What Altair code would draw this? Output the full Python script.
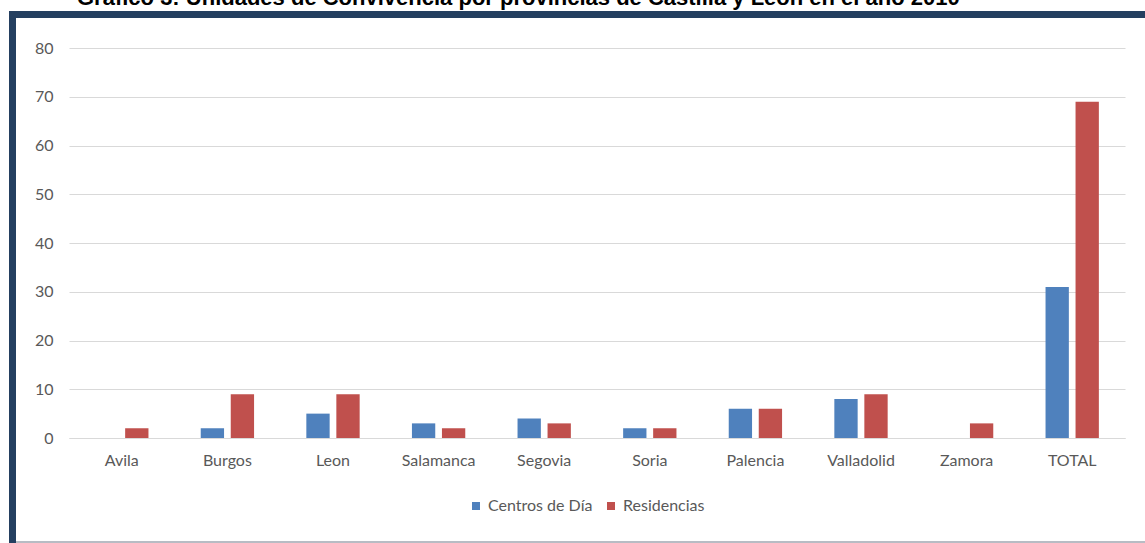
import altair as alt
import pandas as pd

provincias = ["Avila", "Burgos", "Leon", "Salamanca", "Segovia", "Soria",
              "Palencia", "Valladolid", "Zamora", "TOTAL"]
centros = [0, 2, 5, 3, 4, 2, 6, 8, 0, 31]
residencias = [2, 9, 9, 2, 3, 2, 6, 9, 3, 69]
series = ["Centros de Día", "Residencias"]
colors = ["#4F81BD", "#C0504D"]
title_text = "Gráfico 3: Unidades de Convivencia por provincias de Castilla y León en el año 2010"

rows = []
for p, c, r in zip(provincias, centros, residencias):
    rows.append({"Provincia": p, "Serie": series[0], "Valor": c})
    rows.append({"Provincia": p, "Serie": series[1], "Valor": r})
df = pd.DataFrame(rows)

FONT = "Lato"
GRAY = "#595959"

bars = alt.Chart(df).mark_bar().encode(
    x=alt.X("Provincia:N", sort=provincias,
            scale=alt.Scale(paddingInner=0.495, paddingOuter=0.2475),
            axis=alt.Axis(title=None, labelAngle=0, ticks=False,
                          domainColor="#d9d9d9", domainWidth=1,
                          labelColor=GRAY, labelFontSize=16, labelFont=FONT,
                          labelPadding=14)),
    xOffset=alt.XOffset("Serie:N", sort=series,
                        scale=alt.Scale(paddingInner=0.223)),
    y=alt.Y("Valor:Q", scale=alt.Scale(domain=[0, 80]),
            axis=alt.Axis(title=None, values=list(range(0, 81, 10)),
                          domain=False, ticks=False, gridColor="#d9d9d9",
                          labelColor=GRAY, labelFontSize=16, labelFont=FONT,
                          labelPadding=16)),
    color=alt.Color("Serie:N", sort=series,
                    scale=alt.Scale(domain=series, range=colors),
                    legend=alt.Legend(title=None, orient="none",
                                      direction="horizontal",
                                      legendX=399, legendY=450,
                                      symbolType="square", symbolSize=64,
                                      symbolStrokeWidth=0, labelFontSize=16,
                                      labelFont=FONT, labelColor=GRAY,
                                      labelOffset=4, columnPadding=10)),
)

one = pd.DataFrame({"a": [0]})

top_band = alt.Chart(one).mark_rect(color="#243F60").encode(
    x=alt.value(-60), x2=alt.value(1076), y=alt.value(-37), y2=alt.value(-30))
left_band = alt.Chart(one).mark_rect(color="#243F60").encode(
    x=alt.value(-60), x2=alt.value(-53), y=alt.value(-37), y2=alt.value(495))
bottom_line = alt.Chart(one).mark_rect(color="#b8bcc4").encode(
    x=alt.value(-53), x2=alt.value(1076), y=alt.value(493), y2=alt.value(495))

title = alt.Chart(one).mark_text(
    text=title_text, font="Liberation Sans", fontWeight="bold", fontSize=22,
    align="left", baseline="alphabetic", color="#000000"
).encode(x=alt.value(8), y=alt.value(-43))

chart = alt.layer(top_band, left_band, bottom_line, bars, title).properties(
    width=1056, height=390,
    autosize=alt.AutoSizeParams(type="none"),
    padding={"left": 69, "top": 48, "right": 20, "bottom": 105},
    background="white",
).configure_view(stroke=None)

chart.save("out.html", embed_options={"renderer": "svg", "actions": False})
